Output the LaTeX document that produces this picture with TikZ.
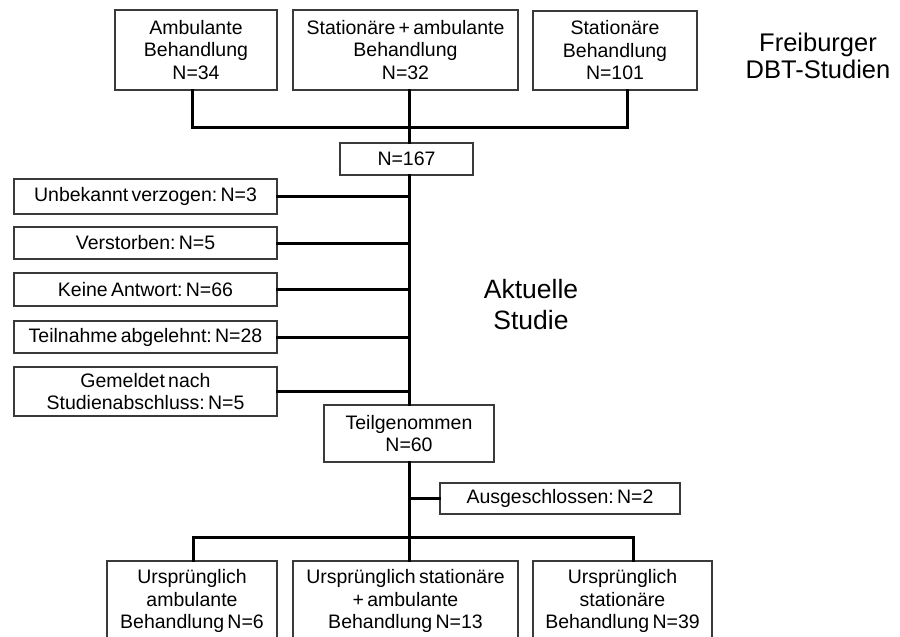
\documentclass[tikz,border=0pt]{standalone}
\usepackage{fontspec}
\setmainfont{Liberation Sans}[WordSpace=0.6]
\frenchspacing
\begin{document}
\begin{tikzpicture}[x=1pt,y=-1pt,
  box/.style={draw=boxc, line width=1.1pt, inner sep=0pt, align=center, fill=white,
    font=\fontsize{19.5}{22.5}\selectfont},
  conn/.style={line width=3pt, black, line cap=rect},
  big/.style={align=center, font=\fontsize{25.5}{27}\selectfont}]
\definecolor{boxc}{HTML}{3A3A3A}
\useasboundingbox (0,0) rectangle (900,637);
\clip (0,0) rectangle (900,637);
% coordinates for junctions
\coordinate (barL) at (192,127);
\coordinate (barM) at (409,127);
\coordinate (barR) at (627,127);
\coordinate (bbL) at (193,537);
\coordinate (bbM) at (409,537);
\coordinate (bbR) at (633,537);
% top boxes
\node[box, minimum width=162, minimum height=80] (top1) at (196,50) {Ambulante\\Behandlung\\N=34};
\node[box, minimum width=225, minimum height=80] (top2) at (405.5,50) {Stationäre + ambulante\\Behandlung\\N=32};
\node[box, minimum width=164, minimum height=79] (top3) at (615,50.5) {Stationäre\\Behandlung\\N=101};
\node[big] (frei) at (818,56) {Freiburger\\DBT-Studien};
\node[big, font=\fontsize{26.5}{31}\selectfont] (akt) at (531,305) {Aktuelle\\Studie};
\node[box, minimum width=133, minimum height=32] (n167) at (406.5,159) {N=167};
% left boxes
\node[box, minimum width=263, minimum height=35] (u) at (145.5,196.5) {Unbekannt verzogen: N=3};
\node[box, minimum width=263, minimum height=32] (v) at (145.5,243) {Verstorben: N=5};
\node[box, minimum width=263, minimum height=33] (k) at (145.5,289.5) {Keine Antwort: N=66};
\node[box, minimum width=263, minimum height=32] (t) at (145.5,337) {Teilnahme abgelehnt: N=28};
\node[box, minimum width=263, minimum height=49] (g) at (145.5,391.5) {Gemeldet nach\\Studienabschluss: N=5};
\node[box, minimum width=170, minimum height=57] (teil) at (409,433.5) {Teilgenommen\\N=60};
\node[box, minimum width=240, minimum height=31] (aus) at (560,498.5) {Ausgeschlossen: N=2};
% bottom boxes
\node[box, minimum width=170, minimum height=80] (b1) at (192,601) {Ursprünglich\\ambulante\\Behandlung N=6};
\node[box, minimum width=225, minimum height=80] (b2) at (405.5,601) {Ursprünglich stationäre\\+ ambulante\\Behandlung N=13};
\node[box, minimum width=179, minimum height=80] (b3) at (622.5,601) {Ursprünglich\\stationäre\\Behandlung N=39};
% connectors
\draw[conn] (barL |- top1.south) -- (barL) -- (barR) -- (barR |- top3.south);
\draw[conn] (barM |- top2.south) -- (barM |- n167.north);
\draw[conn] (barM |- n167.south) -- (barM |- teil.north);
\foreach \n in {u,v,k,t,g} \draw[conn] (\n.east) -- (\n.east -| barM);
\draw[conn] (bbM |- teil.south) -- (bbM);
\draw[conn] (aus.west) -- (aus.west -| bbM);
\draw[conn] (bbL |- b1.north) -- (bbL) -- (bbR) -- (bbR |- b3.north);
\draw[conn] (bbM) -- (bbM |- b2.north);
\end{tikzpicture}
\end{document}
